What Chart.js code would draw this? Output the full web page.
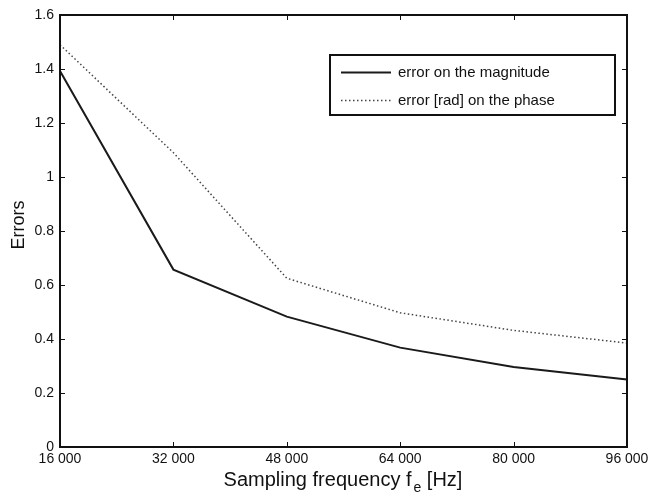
<!DOCTYPE html>
<html>
<head>
<meta charset="utf-8">
<script src="https://cdn.jsdelivr.net/npm/chart.js@4/dist/chart.umd.min.js"></script>
<style>
  html, body { margin: 0; padding: 0; background: #fff; }
  #wrap { width: 649px; height: 496px; position: relative; }
</style>
</head>
<body>
<div id="wrap"><canvas id="c" width="649" height="496"></canvas></div>
<script>
const categories = ['16 000', '32 000', '48 000', '64 000', '80 000', '96 000'];
const magnitudeError = [1.393, 0.657, 0.483, 0.368, 0.296, 0.250];
const phaseError = [1.49, 1.09, 0.625, 0.497, 0.432, 0.385];
const yTickLabels = ['0', '0.2', '0.4', '0.6', '0.8', '1', '1.2', '1.4', '1.6'];
const seriesNames = ['error on the magnitude', 'error [rad] on the phase'];

const FONT = '"Liberation Sans", Arial, Helvetica, sans-serif';

const framePlugin = {
  id: 'frame',
  afterDraw(chart) {
    const ctx = chart.ctx;
    const a = chart.chartArea;
    const xs = chart.scales.x, ys = chart.scales.y;
    ctx.save();
    // box
    ctx.strokeStyle = '#111';
    ctx.lineWidth = 2;
    ctx.strokeRect(a.left, a.top, a.right - a.left, a.bottom - a.top);
    // inward ticks
    ctx.lineWidth = 1;
    const tl = 5;
    xs.ticks.forEach((t, i) => {
      const px = Math.round(xs.getPixelForTick(i)) + 0.5;
      ctx.beginPath();
      ctx.moveTo(px, a.bottom); ctx.lineTo(px, a.bottom - tl);
      ctx.moveTo(px, a.top); ctx.lineTo(px, a.top + tl);
      ctx.stroke();
    });
    ys.ticks.forEach((t) => {
      const py = Math.round(ys.getPixelForValue(t.value)) + 0.5;
      ctx.beginPath();
      ctx.moveTo(a.left, py); ctx.lineTo(a.left + tl, py);
      ctx.moveTo(a.right, py); ctx.lineTo(a.right - tl, py);
      ctx.stroke();
    });
    // axis titles
    ctx.fillStyle = '#111';
    ctx.textBaseline = 'alphabetic';
    const big = '20px ' + FONT, small = '14px ' + FONT;
    const p1 = 'Sampling frequency f', sub = 'e', p2 = ' [Hz]';
    ctx.font = big;
    const w1 = ctx.measureText(p1).width;
    const w2 = ctx.measureText(p2).width;
    ctx.font = small;
    const ws = ctx.measureText(sub).width;
    const total = w1 + ws + w2 + 2;
    const cx = 343;
    let x0 = cx - total / 2;
    const by = 486;
    ctx.font = big;
    ctx.textAlign = 'left';
    ctx.fillText(p1, x0, by);
    ctx.font = small;
    ctx.fillText(sub, x0 + w1 + 2, by + 6);
    ctx.font = big;
    ctx.fillText(p2, x0 + w1 + ws + 2, by);
    // y title
    ctx.save();
    ctx.font = '18px ' + FONT;
    ctx.translate(24, 225);
    ctx.rotate(-Math.PI / 2);
    ctx.textAlign = 'center';
    ctx.fillText('Errors', 0, 0);
    ctx.restore();
    // legend
    const lx = 330, ly = 55, lw = 285, lh = 60;
    ctx.fillStyle = '#fff';
    ctx.fillRect(lx, ly, lw, lh);
    ctx.strokeStyle = '#111';
    ctx.lineWidth = 2;
    ctx.strokeRect(lx, ly, lw, lh);
    const ds = chart.data.datasets;
    const rows = [72.5, 100.5];
    ds.forEach((d, i) => {
      ctx.beginPath();
      ctx.strokeStyle = d.borderColor;
      ctx.lineWidth = d.borderWidth;
      ctx.setLineDash(d.borderDash || []);
      ctx.moveTo(341, rows[i]); ctx.lineTo(391, rows[i]);
      ctx.stroke();
      ctx.setLineDash([]);
      ctx.fillStyle = '#111';
      ctx.font = '15px ' + FONT;
      ctx.textAlign = 'left';
      ctx.textBaseline = 'middle';
      ctx.fillText(d.label, 398, rows[i]);
    });
    ctx.restore();
  }
};

new Chart(document.getElementById('c'), {
  type: 'line',
  data: {
    labels: categories,
    datasets: [
      { label: seriesNames[0], data: magnitudeError, borderColor: '#1a1a1a', borderWidth: 2, pointRadius: 0, tension: 0, fill: false },
      { label: seriesNames[1], data: phaseError, borderColor: '#444', borderWidth: 1.5, borderDash: [1.5, 2.5], pointRadius: 0, tension: 0, fill: false }
    ]
  },
  options: {
    responsive: false,
    animation: false,
    devicePixelRatio: 1,
    layout: { padding: { top: 15, right: 22, left: 0, bottom: 0 } },
    plugins: { legend: { display: false }, tooltip: { enabled: false } },
    scales: {
      x: {
        type: 'category',
        offset: false,
        grid: { display: false, drawTicks: false },
        border: { display: false },
        ticks: { color: '#111', font: { family: FONT, size: 14 }, padding: 4, maxRotation: 0, autoSkip: false },
        afterFit(s) { s.height = 49; s.paddingRight = 0; s.paddingLeft = 0; }
      },
      y: {
        min: 0, max: 1.6,
        grid: { display: false, drawTicks: false },
        border: { display: false },
        ticks: { stepSize: 0.2, color: '#111', font: { family: FONT, size: 14 }, padding: 6,
          callback: (v, i) => yTickLabels[i] },
        afterFit(s) { s.width = 60; s.paddingTop = 0; s.paddingBottom = 0; }
      }
    }
  },
  plugins: [framePlugin]
});
</script>
</body>
</html>
